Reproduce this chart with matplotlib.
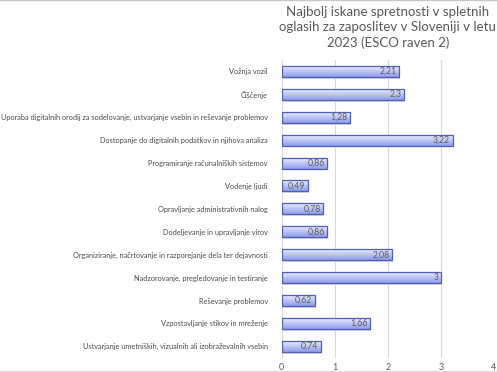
import numpy as np
import matplotlib.pyplot as plt
from matplotlib.colors import LinearSegmentedColormap
from matplotlib.lines import Line2D

categories = [
    'Vožnja vozil',
    'Čiščenje',
    'Uporaba digitalnih orodij za sodelovanje, ustvarjanje vsebin in reševanje problemov',
    'Dostopanje do digitalnih podatkov in njihova analiza',
    'Programiranje računalniških sistemov',
    'Vodenje ljudi',
    'Opravljanje administrativnih nalog',
    'Dodeljevanje in upravljanje virov',
    'Organiziranje, načrtovanje in razporejanje dela ter dejavnosti',
    'Nadzorovanje, pregledovanje in testiranje',
    'Reševanje problemov',
    'Vzpostavljanje stikov in mreženje',
    'Ustvarjanje umetniških, vizualnih ali izobraževalnih vsebin',
]
values = [2.21, 2.3, 1.28, 3.22, 0.86, 0.49, 0.78, 0.86, 2.08, 3, 0.62, 1.66, 0.74]
value_labels = ['2,21', '2,3', '1,28', '3,22', '0,86', '0,49', '0,78', '0,86',
                '2,08', '3', '0,62', '1,66', '0,74']
xticks = [0, 1, 2, 3, 4]
title = 'Najbolj iskane spretnosti v spletnih\noglasih za zaposlitev v Sloveniji v letu\n2023 (ESCO raven 2)'

plt.rcParams['font.family'] = ['Lato', 'DejaVu Sans']

fig = plt.figure(figsize=(4.97, 3.72), dpi=100)
ax = fig.add_axes([0.567, 0.038, 0.427, 0.801])

y = np.arange(len(categories))
bars = ax.barh(y, values, height=0.48, color='none', edgecolor='#4f5fb3',
               linewidth=0.9, zorder=3)

# gradient fill inside each bar, light on top to blue at bottom
cmap = LinearSegmentedColormap.from_list('barfill', ['#f4f5ff', '#c0c8f6', '#8e9dea'])
grad = np.linspace(0, 1, 50).reshape(-1, 1)
for b in bars:
    x0, y0 = b.get_x(), b.get_y()
    w, h = b.get_width(), b.get_height()
    # shadow
    ax.add_patch(plt.Rectangle((x0 + 0.02, y0 + 0.08), w, h, color='#d8d8d8',
                               zorder=2, linewidth=0))
    im = ax.imshow(grad, cmap=cmap, aspect='auto', extent=(x0, x0 + w, y0 + h, y0),
                   zorder=2.5, interpolation='bicubic')
    im.set_clip_path(b)

for yi, v, lab in zip(y, values, value_labels):
    ax.text(v - 0.05, yi, lab, ha='right', va='center', fontsize=6.3,
            color='#5a5a5a', zorder=4)

ax.set_xlim(0, 4)
ax.set_ylim(len(categories) - 0.5, -0.5)
ax.set_xticks(xticks)
ax.set_xticklabels([str(t) for t in xticks])
ax.set_yticks(y)
ax.set_yticklabels(categories)
ax.tick_params(axis='y', length=0, pad=10, labelsize=5.3, labelcolor='#4a4a4a')
ax.tick_params(axis='x', length=0, pad=4, labelsize=6.5, labelcolor='#595959')
ax.grid(axis='x', color='#d9d9d9', linewidth=0.8, zorder=0)
for s in ax.spines.values():
    s.set_visible(False)
ax.set_title(title, fontsize=9.5, color='#595959', linespacing=1.32, pad=9)

# thin frame lines at top and bottom of image
fig.add_artist(Line2D([0, 1], [0.999, 0.999], color='#c8c8c8', linewidth=1.0))
fig.add_artist(Line2D([0, 1], [0.002, 0.002], color='#dcdcdc', linewidth=1.0))

fig.savefig('out.png', dpi=100)
